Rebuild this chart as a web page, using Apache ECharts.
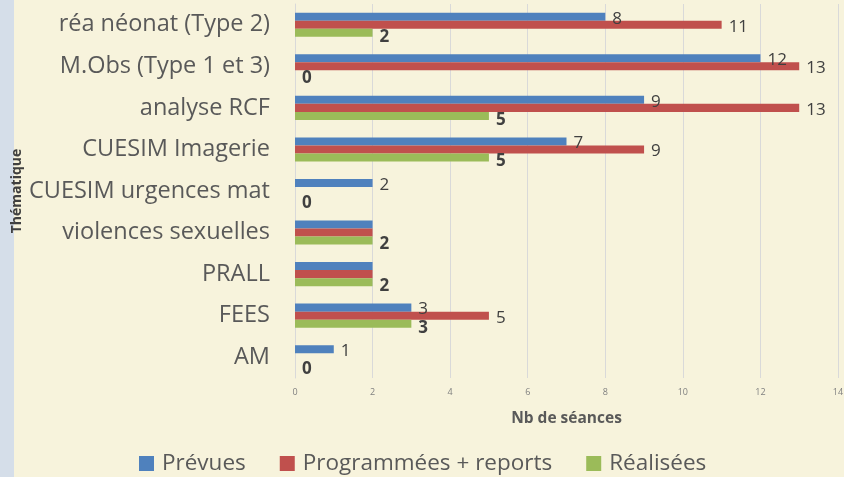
<!DOCTYPE html>
<html><head><meta charset="utf-8">
<script src="https://cdn.jsdelivr.net/npm/echarts@6/dist/echarts.min.js"></script>
<style>html,body{margin:0;padding:0;background:#F7F3DC;}#c{width:844px;height:477px;}</style>
</head><body><div id="c"></div>
<script>
const categories = ['réa néonat (Type 2)','M.Obs (Type 1 et 3)','analyse RCF','CUESIM Imagerie','CUESIM urgences mat','violences sexuelles','PRALL','FEES','AM'];
const prevues = [8,12,9,7,2,2,2,3,1];
const programmees = [11,13,13,9,null,2,2,5,null];
const realisees = [2,0,5,5,0,2,2,3,0];
const xTicks = [0,2,4,6,8,10,12,14];
const hiddenBlueLabels = ['violences sexuelles','PRALL'];
const hiddenRedLabels = ['violences sexuelles','PRALL'];

const FONT = 'Open Sans';
const chart = echarts.init(document.getElementById('c'));
function lbl(extra){return Object.assign({show:true,position:'right',distance:7,fontFamily:FONT,fontSize:17,color:'#404040'},extra);}
chart.setOption({
  backgroundColor:'#F7F3DC',
  animation:false,
  graphic:[{type:'rect',left:0,top:0,shape:{width:14,height:477},style:{fill:'#D5DEE9'}}],
  grid:{left:295,right:6,top:4,bottom:99,containLabel:false,outerBoundsMode:'none'},
  legend:{top:447,left:134,itemWidth:15,itemHeight:15,itemGap:34,icon:'rect',
    textStyle:{fontFamily:FONT,fontSize:22.5,color:'#595959',padding:[0,0,0,3]},
    data:['Prévues','Programmées + reports','Réalisées']},
  xAxis:{type:'value',min:xTicks[0],max:xTicks[xTicks.length-1],interval:2,
    axisLine:{show:false},axisTick:{show:false},
    splitLine:{lineStyle:{color:'#D9D9D9'}},
    axisLabel:{fontFamily:FONT,fontSize:9,color:'#808080',margin:10},
    name:'Nb de séances',nameLocation:'middle',nameGap:33,nameMoveOverlap:false,
    nameTextStyle:{fontFamily:FONT,fontSize:15.5,fontWeight:'bold',color:'#595959'}},
  yAxis:{type:'category',inverse:true,data:categories,
    axisLine:{show:true,lineStyle:{color:'#D9D9D9'}},axisTick:{show:false},
    axisLabel:{fontFamily:FONT,fontSize:23.5,color:'#595959',margin:25},
    name:'Thématique',nameLocation:'middle',nameGap:271,nameRotate:90,nameMoveOverlap:false,
    nameTextStyle:{fontFamily:FONT,fontSize:14,fontWeight:'bold',color:'#404040'}},
  series:[
    {name:'Prévues',type:'bar',data:prevues,barGap:'0%',barCategoryGap:'42%',itemStyle:{color:'#4F81BD'},
      label:lbl({offset:[0,2],formatter:p=>hiddenBlueLabels.includes(p.name)?'':p.value})},
    {name:'Programmées + reports',type:'bar',data:programmees,barGap:'0%',barCategoryGap:'42%',itemStyle:{color:'#C0504D'},
      label:lbl({offset:[0,2],formatter:p=>(p.value==null||hiddenRedLabels.includes(p.name))?'':p.value})},
    {name:'Réalisées',type:'bar',data:realisees,barGap:'0%',barCategoryGap:'42%',itemStyle:{color:'#9BBB59'},
      label:lbl({fontWeight:'bold',offset:[0,4]})}
  ]
});
</script></body></html>
